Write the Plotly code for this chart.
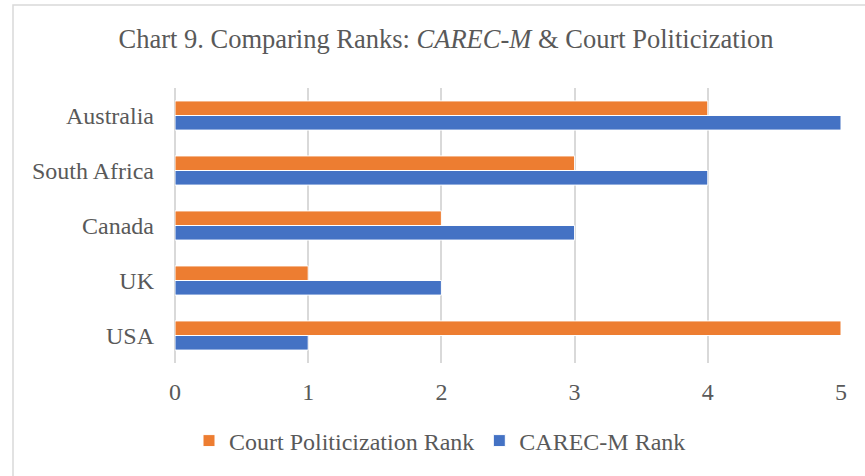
import plotly.graph_objects as go

categories = ["Australia", "South Africa", "Canada", "UK", "USA"]
court_rank = [4, 3, 2, 1, 5]
carec_rank = [5, 4, 3, 2, 1]
series_names = ["Court Politicization Rank", "CAREC-M Rank"]
tick_vals = [0, 1, 2, 3, 4, 5]

FONT = "Liberation Serif, Times New Roman, serif"
GRAY = "#595959"
GRID = "#d9d9d9"

fig = go.Figure()
fig.add_trace(go.Bar(y=categories, x=court_rank, orientation="h", name=series_names[0],
                     marker=dict(color="#ed7d31", line=dict(color="white", width=1))))
fig.add_trace(go.Bar(y=categories, x=carec_rank, orientation="h", name=series_names[1],
                     marker=dict(color="#4472c4", line=dict(color="white", width=1))))

W, H = 865, 476
L, R, T, B = 175, 841, 88, 363
pw, ph = R - L, B - T

def px(xp):
    return (xp - L) / pw

def py(yp):
    return (B - yp) / ph

fig.update_layout(
    width=W, height=H,
    margin=dict(l=L, r=W - R, t=T, b=H - B),
    paper_bgcolor="white", plot_bgcolor="white",
    barmode="group", bargap=0.47, bargroupgap=0,
    font=dict(family=FONT, color=GRAY, size=24),
    title=dict(text="Chart 9. Comparing Ranks: <i>CAREC-M</i> &amp; Court Politicization",
               font=dict(family=FONT, size=26.5, color=GRAY),
               xref="paper", x=px(446), xanchor="center",
               yref="container", y=1 - 39 / H, yanchor="middle"),
    legend=dict(orientation="h", xref="paper", x=px(440), xanchor="center",
                y=py(441), yanchor="middle", traceorder="normal",
                font=dict(family=FONT, size=24, color=GRAY),
                itemwidth=30),
    showlegend=True,
)
fig.update_xaxes(range=[0, 5], tickvals=tick_vals, showgrid=True, gridcolor=GRID, gridwidth=1.5,
                 zeroline=True, zerolinecolor=GRID, zerolinewidth=1.5, showline=False,
                 ticks="", ticklabelstandoff=12, tickfont=dict(size=24, color=GRAY))
fig.update_yaxes(autorange="reversed", showgrid=False, showline=False, ticks="",
                 ticklabelstandoff=20, tickfont=dict(size=24, color=GRAY))

fig.add_shape(type="rect", xref="paper", yref="paper",
              x0=px(13), x1=px(880), y0=py(490), y1=py(5),
              line=dict(color=GRID, width=1.5), fillcolor="rgba(0,0,0,0)", layer="below")

fig.write_html("out.html", config={"displayModeBar": False},
               post_script="document.body.style.margin='0';")
